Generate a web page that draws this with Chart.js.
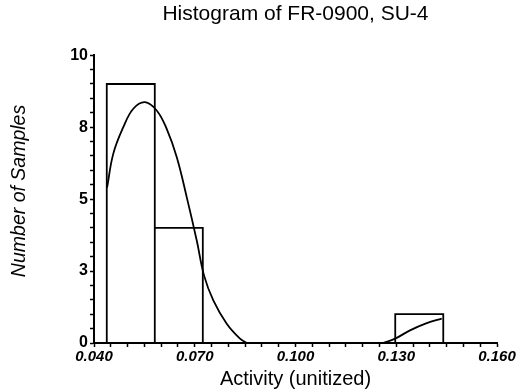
<!DOCTYPE html>
<html>
<head>
<meta charset="utf-8">
<script src="https://cdn.jsdelivr.net/npm/chart.js@4/dist/chart.umd.min.js"></script>
<style>
  html, body { margin: 0; padding: 0; background: #fff; }
  #wrap { width: 522px; height: 391px; }
</style>
</head>
<body>
<div id="wrap"><canvas id="c" width="522" height="391"></canvas></div>
<script>
// ---- data ----
const binEdges = [0.0438, 0.0581, 0.0724, 0.0867, 0.1011, 0.1154, 0.1297, 0.1440];
const counts   = [9, 4, 0, 0, 0, 0, 1];

const curveLeftX  = [0.0439, 0.04575, 0.04873, 0.05170, 0.05519, 0.05867, 0.06165, 0.06463, 0.06761, 0.07058, 0.07276, 0.07553, 0.07952, 0.08348, 0.08547];
const curveLeftY  = [5.4, 6.58, 7.5, 8.14, 8.37, 8.08, 7.44, 6.46, 5.07, 3.57, 2.35, 1.48, 0.67, 0.15, 0];
const curveRightX = [0.1260, 0.12964, 0.13410, 0.13908, 0.14355];
const curveRightY = [0, 0.15, 0.44, 0.69, 0.85];

const xTickValues = [0.040, 0.070, 0.100, 0.130, 0.160];
const xTickLabels = ['0.040', '0.070', '0.100', '0.130', '0.160'];
const yTickValues = [0, 2.5, 5, 7.5, 10];
const yTickLabels = ['0', '3', '5', '8', '10'];

const titleText  = 'Histogram of FR-0900, SU-4';
const xTitleText = 'Activity (unitized)';
const yTitleText = '   Number of Samples';

// ---- build datasets ----
// histogram outline: each non-empty bin drawn as an open-bottom box
const histData = [];
counts.forEach((c, i) => {
  if (c > 0) {
    histData.push({ x: binEdges[i], y: 0 });
    histData.push({ x: binEdges[i], y: c });
    histData.push({ x: binEdges[i + 1], y: c });
    histData.push({ x: binEdges[i + 1], y: 0 });
  } else if (histData.length && histData[histData.length - 1].y !== null) {
    histData.push({ x: (binEdges[i] + binEdges[i + 1]) / 2, y: null });
  }
});

const curveData = curveLeftX.map((x, i) => ({ x: x, y: curveLeftY[i] }))
  .concat([{ x: (curveLeftX[curveLeftX.length - 1] + curveRightX[0]) / 2, y: null }])
  .concat(curveRightX.map((x, i) => ({ x: x, y: curveRightY[i] })));

function lookup(v, vals, labels) {
  for (let i = 0; i < vals.length; i++) {
    if (Math.abs(v - vals[i]) < 1e-7) return labels[i];
  }
  return '';
}

const FONT = "'Liberation Sans', Arial, sans-serif";

new Chart(document.getElementById('c'), {
  type: 'line',
  data: {
    datasets: [
      {
        data: histData,
        borderColor: '#000',
        borderWidth: 1.8,
        pointRadius: 0,
        fill: false,
        tension: 0,
        spanGaps: false,
        borderJoinStyle: 'miter',
        borderCapStyle: 'square'
      },
      {
        data: curveData,
        borderColor: '#000',
        borderWidth: 1.8,
        pointRadius: 0,
        fill: false,
        spanGaps: false,
        tension: 0.4
      }
    ]
  },
  options: {
    responsive: false,
    animation: false,
    layout: { padding: { left: 4, right: 25, top: 0, bottom: 0 } },
    plugins: {
      legend: { display: false },
      tooltip: { enabled: false },
      title: {
        display: true,
        text: titleText,
        fullSize: false,
        color: '#000',
        font: { family: FONT, size: 21, weight: 'normal' },
        padding: { top: 2, bottom: 28 }
      }
    },
    scales: {
      x: {
        type: 'linear',
        min: 0.04,
        max: 0.16,
        offset: false,
        afterFit: (s) => { s.height = 48; },
        grid: { display: true, drawOnChartArea: false, drawTicks: true, tickLength: 4, tickColor: '#000', tickWidth: 1.5, offset: false },
        border: { display: true, color: '#000', width: 2 },
        ticks: {
          stepSize: 0.005,
          autoSkip: false,
          maxRotation: 0,
          padding: 1,
          color: '#000',
          font: { family: FONT, size: 15, weight: 'bold', style: 'italic' },
          callback: (v) => lookup(v, xTickValues, xTickLabels)
        },
        title: {
          display: true,
          text: xTitleText,
          color: '#000',
          font: { family: FONT, size: 20, weight: 'normal' },
          padding: { top: 0, bottom: 0 }
        }
      },
      y: {
        type: 'linear',
        min: 0,
        max: 10,
        afterFit: (s) => { s.width = 90; },
        grid: { display: true, drawOnChartArea: false, drawTicks: true, tickLength: 4, tickColor: '#000', tickWidth: 1.5 },
        border: { display: true, color: '#000', width: 2 },
        ticks: {
          stepSize: 0.5,
          autoSkip: false,
          padding: 2,
          color: '#000',
          font: { family: FONT, size: 16, weight: 'bold' },
          callback: (v) => lookup(v, yTickValues, yTickLabels)
        },
        title: {
          display: true,
          text: yTitleText,
          color: '#000',
          font: { family: FONT, size: 19.5, weight: 'normal', style: 'italic' },
          padding: { top: 4, bottom: 0 }
        }
      }
    }
  }
});
</script>
</body>
</html>
